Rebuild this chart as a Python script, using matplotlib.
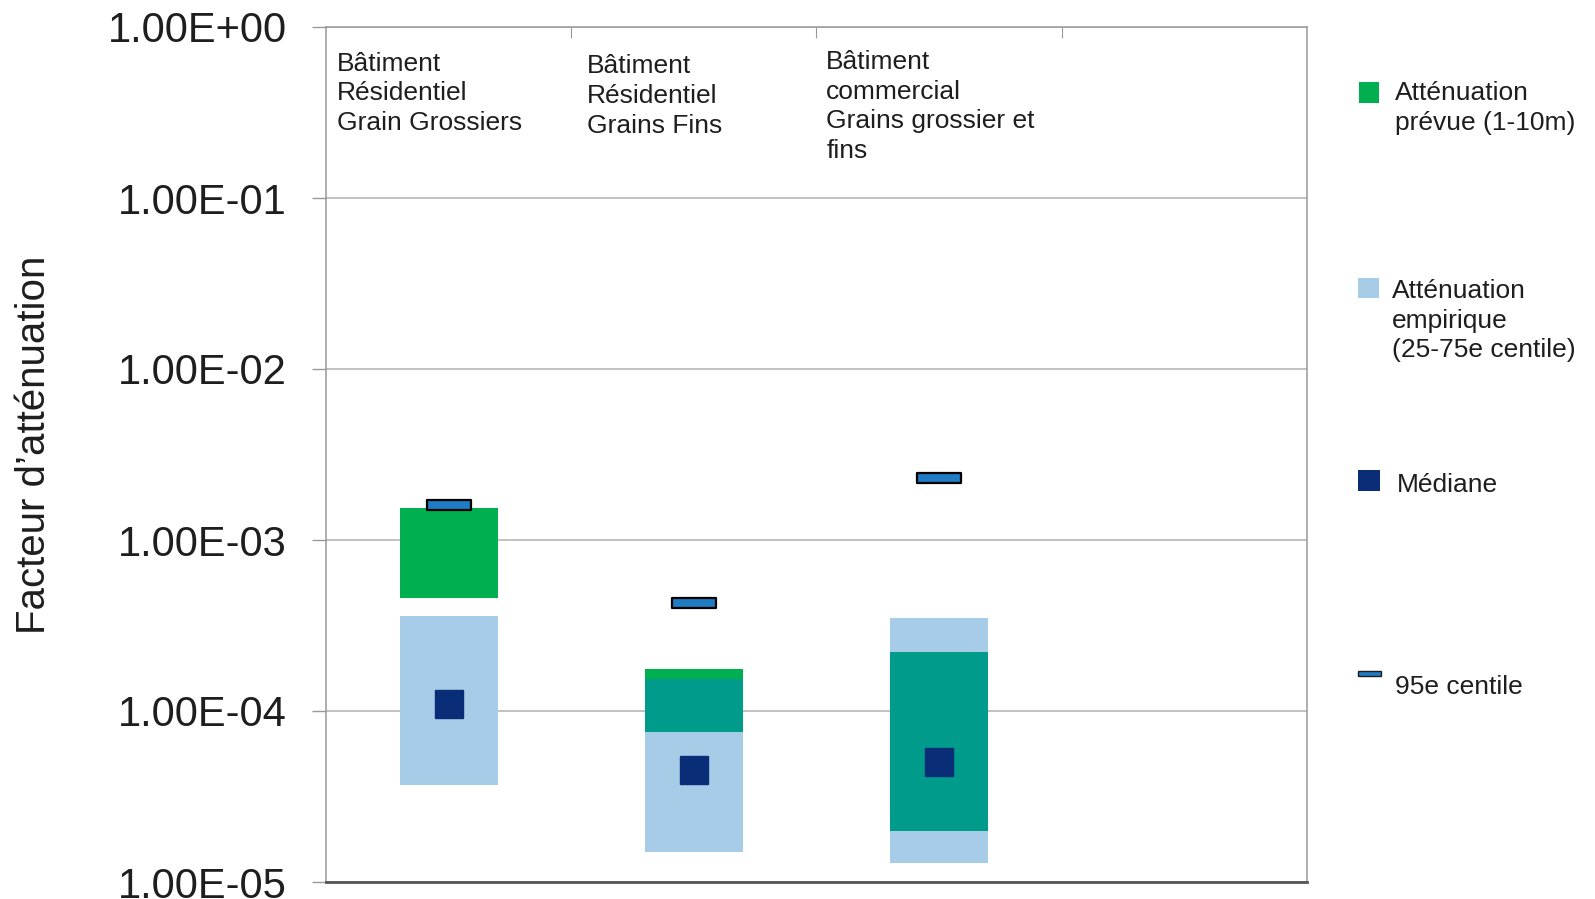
import numpy as np
import matplotlib.pyplot as plt
from matplotlib.patches import Rectangle
from matplotlib.ticker import FixedLocator, FixedFormatter

plt.rcParams['font.family'] = ['Liberation Sans', 'DejaVu Sans']

# Données : facteurs d'atténuation par type de bâtiment
categories = ["Bâtiment\nRésidentiel\nGrain Grossiers",
              "Bâtiment\nRésidentiel\nGrains Fins",
              "Bâtiment\ncommercial\nGrains grossier et\nfins"]
prevue_bas = [4.6e-4, 7.5e-5, 2.0e-5]
prevue_haut = [1.53e-3, 1.75e-4, 2.2e-4]
empirique_bas = [3.7e-5, 1.5e-5, 1.3e-5]
empirique_haut = [3.6e-4, 1.53e-4, 3.5e-4]
mediane = [1.1e-4, 4.5e-5, 5.0e-5]
centile95 = [1.6e-3, 4.3e-4, 2.3e-3]
yticks = [1e-5, 1e-4, 1e-3, 1e-2, 1e-1, 1e0]
ytick_labels = ["1.00E-05", "1.00E-04", "1.00E-03", "1.00E-02", "1.00E-01", "1.00E+00"]

vert = '#00b050'
bleu_clair = '#a7cce7'
sarcelle = '#009b8a'
marine = '#0a2d78'
bleu95 = '#1f7cc4'
texte = '#1e1e1e'

W, H = 1595, 899
fig = plt.figure(figsize=(W / 100, H / 100), dpi=100)
ax = fig.add_axes([326 / W, 1 - 882 / H, (1307 - 326) / W, (882 - 27) / H])

ax.set_yscale('log')
ax.set_ylim(1e-5, 1e0)
ax.set_xlim(0, 4)

larg = 0.4
for i in range(len(categories)):
    xc = i + 0.5
    # intervalle empirique (25-75e centile)
    ax.bar(xc, empirique_haut[i] - empirique_bas[i], bottom=empirique_bas[i],
           width=larg, color=bleu_clair, zorder=2)
    # atténuation prévue
    ax.bar(xc, prevue_haut[i] - prevue_bas[i], bottom=prevue_bas[i],
           width=larg, color=vert, zorder=3)
    # recouvrement des deux intervalles
    lo = max(prevue_bas[i], empirique_bas[i])
    hi = min(prevue_haut[i], empirique_haut[i])
    if hi > lo:
        ax.bar(xc, hi - lo, bottom=lo, width=larg, color=sarcelle, zorder=4)
    # 95e centile
    h = 10 ** 0.029
    ax.add_patch(Rectangle((xc - 0.09, centile95[i] / h), 0.18,
                           centile95[i] * h - centile95[i] / h,
                           facecolor=bleu95, edgecolor='black', lw=1.6,
                           joinstyle='round', zorder=5))
    # catégorie
    ax.text([0.045, 1.064, 2.04][i], [0.971, 0.968, 0.973][i], categories[i],
            transform=ax.get_xaxis_transform(), ha='left', va='top',
            fontsize=19, color=texte, linespacing=1.3)

ax.plot(np.arange(len(categories)) + 0.5, mediane, 's', color=marine,
        markersize=19.5, zorder=6)

# axes et grille
ax.yaxis.set_major_locator(FixedLocator(yticks))
ax.yaxis.set_major_formatter(FixedFormatter(ytick_labels))
ax.yaxis.set_minor_locator(FixedLocator([]))
ax.tick_params(axis='y', which='major', length=10, width=1, color='#999999',
               labelsize=30, pad=18, labelcolor=texte)
ax.grid(axis='y', color='#b0b0b0', lw=1.1, zorder=0)
ax.xaxis.tick_top()
ax.set_xticks([1, 2, 3])
ax.set_xticklabels([])
ax.tick_params(axis='x', direction='in', length=8, color='#999999')
for s in ['left', 'top', 'right']:
    ax.spines[s].set_color('#999999')
    ax.spines[s].set_linewidth(1.1)
ax.spines['bottom'].set_color('#555555')
ax.spines['bottom'].set_linewidth(2)

fig.text(34 / W, 1 - 445 / H, "Facteur d’atténuation", rotation=90,
         ha='center', va='center', fontsize=29, color=texte)


# légende
def carre(x0, y0, x1, y1, fc, ec='none', lw=0):
    fig.add_artist(Rectangle((x0 / W, 1 - y1 / H), (x1 - x0) / W, (y1 - y0) / H,
                             transform=fig.transFigure, facecolor=fc,
                             edgecolor=ec, lw=lw))


def legende(x, y, s):
    fig.text(x / W, 1 - y / H, s, ha='left', va='top', fontsize=19,
             color=texte, linespacing=1.3)


carre(1359, 82, 1379, 103, vert)
legende(1395, 81, "Atténuation\nprévue (1-10m)")
carre(1358, 278, 1379, 298, bleu_clair)
legende(1392, 279, "Atténuation\nempirique\n(25-75e centile)")
carre(1358, 470, 1380, 491, marine)
legende(1397, 473, "Médiane")
carre(1358, 671, 1381, 676, bleu95, ec='#1e1e1e', lw=1)
legende(1395, 675, "95e centile")

fig.savefig('out.png', dpi=100)
